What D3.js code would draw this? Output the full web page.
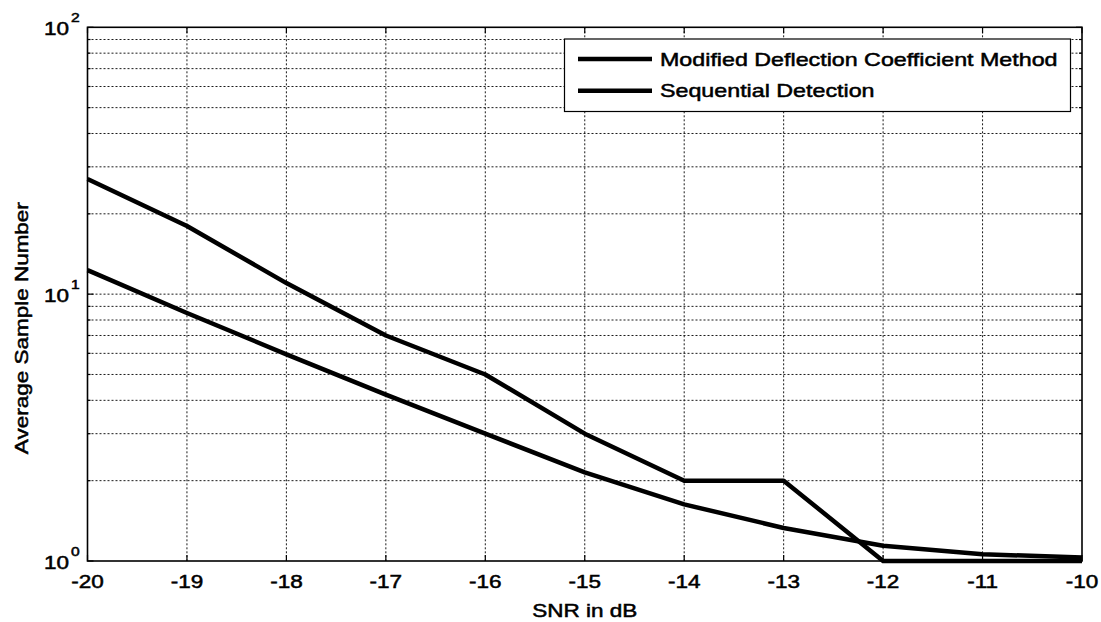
<!DOCTYPE html>
<html>
<head>
<meta charset="utf-8">
<script src="https://cdn.jsdelivr.net/npm/d3@7"></script>
<style>
  html, body { margin: 0; padding: 0; background: #fff; }
  svg { display: block; }
  text { font-family: "Liberation Sans", Arial, sans-serif; fill: #000; }
</style>
</head>
<body>
<svg id="chart" width="1101" height="622"></svg>
<script>
// SNR values on the x axis (dB)
const snr = [-20, -19, -18, -17, -16, -15, -14, -13, -12, -11, -10];
// Average sample number for each method
const modifiedDeflection = [27, 18, 11, 7, 5, 3, 2, 2, 1, 1, 1];
const sequentialDetection = [12.3, 8.5, 5.95, 4.2, 3.0, 2.15, 1.63, 1.33, 1.14, 1.06, 1.03];

const seriesNames = ["Modified Deflection Coefficient Method", "Sequential Detection"];
const xTicks = [-20, -19, -18, -17, -16, -15, -14, -13, -12, -11, -10];
const yDecades = [1, 10, 100];
const yExponents = ["0", "1", "2"];

const svg = d3.select("#chart");
const m = { left: 87.5, right: 1082, top: 27.3, bottom: 561 };

const x = d3.scaleLinear().domain([-20, -10]).range([m.left, m.right]);
const y = d3.scaleLog().domain([1, 100]).range([m.bottom, m.top]);

// Glyphs in this figure run wide; stretch text along its baseline
const WIDE = 1.25;
function label(g, tx, ty, str, size, anchor, rotate) {
  return g.append("text")
    .attr("transform", `translate(${tx},${ty})` + (rotate ? ` rotate(${rotate})` : "") + ` scale(${WIDE},1)`)
    .attr("font-size", size)
    .attr("text-anchor", anchor)
    .attr("stroke", "#000")
    .attr("stroke-width", 0.5)
    .text(str);
}

// Minor log grid values
const minorVals = [];
[1, 10].forEach(d => { for (let k = 2; k <= 9; k++) minorVals.push(d * k); });

const grid = svg.append("g")
  .attr("stroke", "#1a1a1a")
  .attr("stroke-width", 1)
  .attr("stroke-dasharray", "2,2");

// Horizontal grid (major + minor)
grid.selectAll("line.h")
  .data(minorVals.concat(yDecades.filter(v => v > 1 && v < 100)))
  .join("line")
  .attr("x1", m.left).attr("x2", m.right)
  .attr("y1", d => y(d)).attr("y2", d => y(d));

// Vertical grid
grid.selectAll("line.v")
  .data(xTicks.filter(v => v > -20 && v < -10))
  .join("line")
  .attr("x1", d => x(d)).attr("x2", d => x(d))
  .attr("y1", m.top).attr("y2", m.bottom);

// Inward ticks on all four sides
const ticks = svg.append("g").attr("stroke", "#000").attr("stroke-width", 1.2);
xTicks.forEach(v => {
  ticks.append("line").attr("x1", x(v)).attr("x2", x(v)).attr("y1", m.bottom).attr("y2", m.bottom - 6);
  ticks.append("line").attr("x1", x(v)).attr("x2", x(v)).attr("y1", m.top).attr("y2", m.top + 6);
});
yDecades.forEach(v => {
  ticks.append("line").attr("x1", m.left).attr("x2", m.left + 6).attr("y1", y(v)).attr("y2", y(v));
  ticks.append("line").attr("x1", m.right).attr("x2", m.right - 6).attr("y1", y(v)).attr("y2", y(v));
});
minorVals.forEach(v => {
  ticks.append("line").attr("x1", m.left).attr("x2", m.left + 3).attr("y1", y(v)).attr("y2", y(v));
  ticks.append("line").attr("x1", m.right).attr("x2", m.right - 3).attr("y1", y(v)).attr("y2", y(v));
});

// Plot box
svg.append("rect")
  .attr("x", m.left).attr("y", m.top)
  .attr("width", m.right - m.left).attr("height", m.bottom - m.top)
  .attr("fill", "none").attr("stroke", "#000").attr("stroke-width", 1.6);

// Curves
const line = d3.line().x((d, i) => x(snr[i])).y(d => y(d));
[modifiedDeflection, sequentialDetection].forEach(vals => {
  svg.append("path")
    .datum(vals)
    .attr("d", line)
    .attr("fill", "none")
    .attr("stroke", "#000")
    .attr("stroke-width", 4.5)
    .attr("stroke-linejoin", "round");
});

// Tick labels
const labels = svg.append("g");
xTicks.forEach(v => label(labels, x(v), 588, String(v), 18, "middle"));
yDecades.forEach((v, i) => {
  label(labels, 69, y(v) + 7.5, "10", 18, "end");
  label(labels, 71, y(v) - 5, yExponents[i], 12.5, "start");
});

// Axis titles
label(labels, (m.left + m.right) / 2, 617, "SNR in dB", 18, "middle");
label(labels, 28, (m.top + m.bottom) / 2 + 34, "Average Sample Number", 18, "middle", -90);

// Legend
const lg = svg.append("g");
lg.append("rect")
  .attr("x", 564.5).attr("y", 39)
  .attr("width", 506).attr("height", 72.5)
  .attr("fill", "#fff").attr("stroke", "#000").attr("stroke-width", 1.2);
seriesNames.forEach((name, i) => {
  const ly = 59 + i * 31.7;
  lg.append("line")
    .attr("x1", 578).attr("x2", 652)
    .attr("y1", ly).attr("y2", ly)
    .attr("stroke", "#000").attr("stroke-width", 4.5);
  label(lg, 660, ly + 6.5, name, 18.6, "start");
});
</script>
</body>
</html>
